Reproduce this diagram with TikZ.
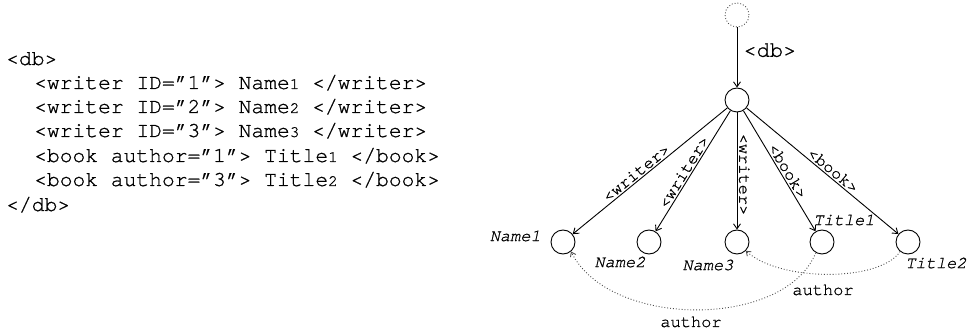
\documentclass[tikz,border=0pt]{standalone}
\usepackage{fontspec}
\newfontfamily\codefont[FakeBold=0.9]{TeX Gyre Cursor}
\usetikzlibrary{arrows.meta}
% small digits used inside the XML listing
\newcommand{\dg}[1]{{\fontsize{16}{16}\selectfont #1}}
\begin{document}
\begin{tikzpicture}[x=1pt,y=1pt,
  code/.style={font=\codefont\fontsize{21.3}{24}\selectfont, anchor=base west, inner sep=0},
  vtx/.style={circle, draw, line width=0.9pt, minimum size=24pt, inner sep=0},
  ghost/.style={vtx, dotted, draw=black!70},
  edge/.style={draw, line width=0.9pt, -{Straight Barb[length=5pt,width=7pt]}},
  ref/.style={draw=black!70, dotted, line width=0.9pt, -{Straight Barb[length=4pt,width=6pt]}},
  elab/.style={font=\codefont\fontsize{17}{17}\selectfont, inner sep=1.5pt},
  nlab/.style={font=\codefont\itshape\fontsize{17}{17}\selectfont, inner sep=0},
]
\useasboundingbox (0,0) rectangle (969,332);

% XML listing
\node[code] (l0) at (6,267)  {<db>};
\node[code] (l1) at (34,243) {<writer ID=”1”> Name\dg{1} </writer>};
\node[code] (l2) at (34,219) {<writer ID=”2”> Name\dg{2} </writer>};
\node[code] (l3) at (34,195) {<writer ID=”3”> Name\dg{3} </writer>};
\node[code] (l4) at (34,170) {<book author=”1”> Title\dg{1} </book>};
\node[code] (l5) at (34,146) {<book author=”3”> Title\dg{2} </book>};
\node[code] (l6) at (6,121)  {</db>};

% tree
\node[ghost] (top)  at (737,317) {};
\node[vtx]   (root) at (737,232) {};
\node[vtx]   (n1)   at (563,90) {};
\node[vtx]   (n2)   at (649,90) {};
\node[vtx]   (n3)   at (737,90) {};
\node[vtx]   (t1)   at (822,90) {};
\node[vtx]   (t2)   at (908,90) {};

\draw[edge] (top) -- node[pos=0.38, anchor=west, inner sep=6pt, font=\codefont\fontsize{22}{24}\selectfont] {<db>} (root);
\draw[edge] (root) -- node[elab, sloped, above, pos=0.56] {<writer>} (n1);
\draw[edge] (root) -- node[elab, sloped, above, pos=0.54] {<writer>} (n2);
\draw[edge] (root) -- node[elab, rotate=-90, anchor=south, pos=0.53] {<writer>} (n3);
\draw[edge] (root) -- node[elab, sloped, above, pos=0.53] {<book>} (t1);
\draw[edge] (root) -- node[elab, sloped, above, pos=0.54] {<book>} (t2);

% leaf values
\node[nlab, anchor=east] (ln1) at (541,96) {Name1};
\node[nlab] (ln2) at (620,70)  {Name2};
\node[nlab] (ln3) at (708,67)  {Name3};
\node[nlab] (lt1) at (844,112) {Title1};
\node[nlab] (lt2) at (936,69)  {Title2};

% author references
\draw[ref] (t1.-120) .. controls (785,3) and (610,3) .. (n1.-50);
\draw[ref] (t2.-130) .. controls (880,50) and (780,50) .. (n3.-45);
\node[elab] (a1) at (691,10) {author};
\node[elab] (a2) at (823,42) {author};
\end{tikzpicture}
\end{document}
